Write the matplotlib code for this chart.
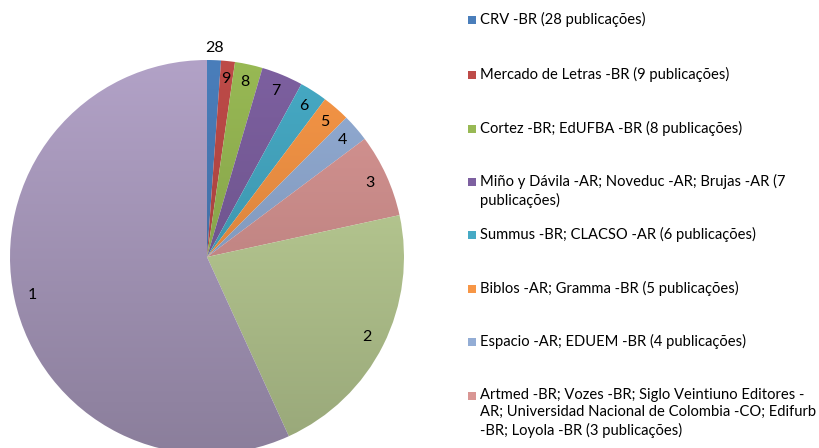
import numpy as np
import matplotlib.pyplot as plt
from matplotlib.colors import to_rgb
from matplotlib.patches import Rectangle

# number of publishers in each group, and the label shown on its slice
slice_labels = ['28', '9', '8', '7', '6', '5', '4', '3', '2', '1']
publishers = [1, 1, 2, 3, 2, 2, 2, 6, 19, 50]
colors = ['#4A7EBB', '#BE4B48', '#98B954', '#7D60A0', '#46AAC5',
          '#F79646', '#93ADD5', '#D99694', '#C3D69B', '#B2A2C7']

legend_labels = [
    'CRV -BR (28 publicações)',
    'Mercado de Letras -BR (9 publicações)',
    'Cortez -BR; EdUFBA -BR (8 publicações)',
    'Miño y Dávila -AR; Noveduc -AR; Brujas -AR (7\npublicações)',
    'Summus -BR; CLACSO -AR (6 publicações)',
    'Biblos -AR; Gramma -BR (5 publicações)',
    'Espacio -AR; EDUEM -BR (4 publicações)',
    'Artmed -BR; Vozes -BR; Siglo Veintiuno Editores -\n'
    'AR; Universidad Nacional de Colombia -CO; Edifurb\n'
    '-BR; Loyola -BR (3 publicações)',
]

plt.rcParams['font.family'] = ['Lato', 'DejaVu Sans']

W, H = 819, 448
fig = plt.figure(figsize=(W / 100, H / 100), dpi=100)
ax = fig.add_axes([0, 0, 1, 1])

cx, cy, R = 207, H - 257, 197
wedges, _ = ax.pie(publishers, colors=colors, startangle=90, counterclock=False,
                   center=(cx, cy), radius=R, frame=True,
                   wedgeprops=dict(linewidth=0))

# vertical shading like the original (lighter at top, darker at bottom)
shade = np.linspace(0.78, 1.0, 256)[:, None, None]
for w, c in zip(wedges, colors):
    img = np.clip(shade * np.array(to_rgb(c))[None, None, :], 0, 1)
    img = np.repeat(img, 2, axis=1)
    w.set_facecolor('none')
    im = ax.imshow(img, extent=(cx - R, cx + R, cy - R, cy + R),
                   origin='lower', aspect='auto', zorder=1)
    im.set_clip_path(w)

# slice labels
for i, (w, lab) in enumerate(zip(wedges, slice_labels)):
    ang = np.deg2rad((w.theta1 + w.theta2) / 2)
    d = 1.06 if i == 0 else 0.91
    ax.text(cx + d * R * np.cos(ang), cy + d * R * np.sin(ang), lab,
            ha='center', va='center', fontsize=11.5, color='black', zorder=3)

ax.set_xlim(0, W)
ax.set_ylim(0, H)
ax.set_aspect('equal')
ax.axis('off')

# legend on the right
row_y = [20, 75, 129, 182, 235, 289, 342, 396]
for lab, c, y in zip(legend_labels, colors, row_y):
    ax.add_patch(Rectangle((468, H - y - 4), 8, 8, facecolor=c,
                           edgecolor='none', zorder=3))
    ax.text(480, H - y + 8, lab, ha='left', va='top', fontsize=10.6,
            linespacing=1.3, zorder=3)

fig.savefig('out.png', dpi=100)
